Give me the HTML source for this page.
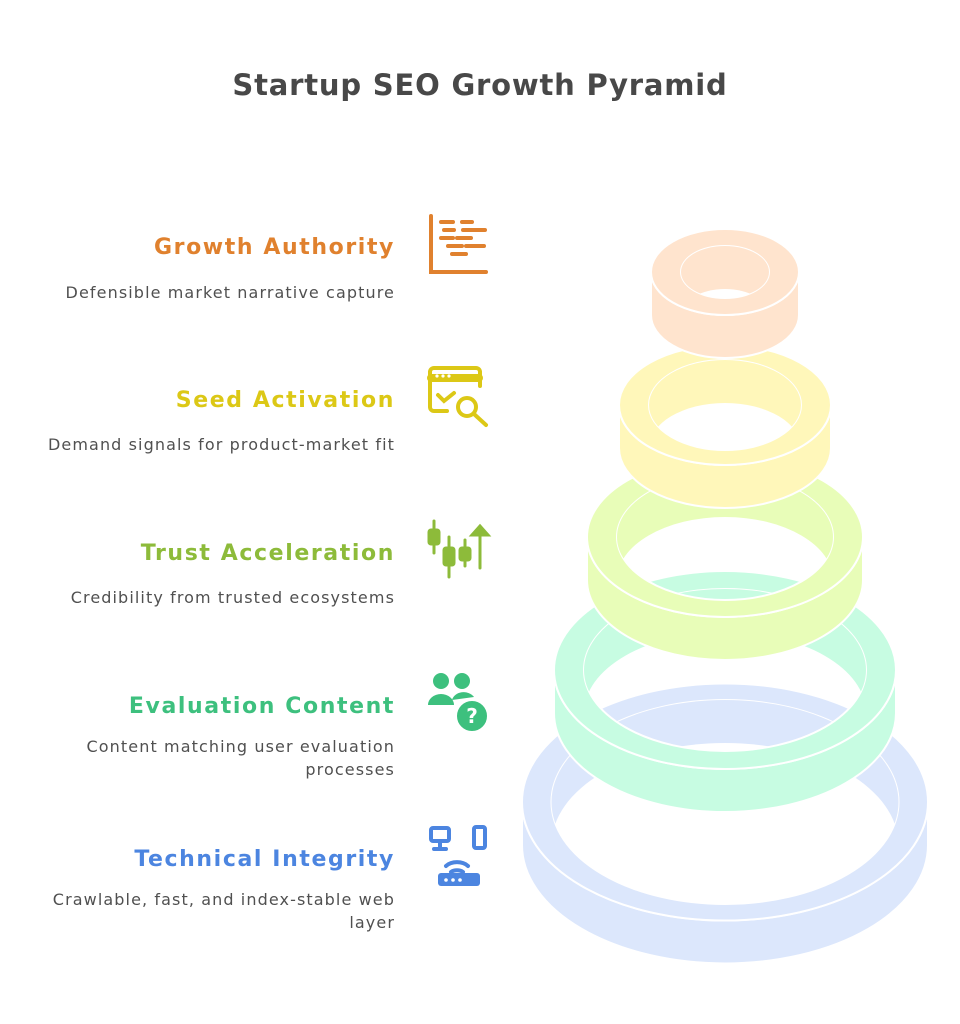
<!DOCTYPE html>
<html><head><meta charset="utf-8"><style>
body{margin:0;width:960px;height:1024px;background:#fff;position:relative;overflow:hidden;font-family:"DejaVu Sans","Liberation Sans",sans-serif}
.t{position:absolute;left:0;width:960px;text-align:center;top:68px;font-size:29px;font-weight:bold;color:#484848;letter-spacing:0.8px}
.h{position:absolute;right:565px;font-size:22px;font-weight:bold;white-space:nowrap;letter-spacing:1.6px}
.d{position:absolute;right:565px;font-size:16px;color:#505050;text-align:right;line-height:23px;white-space:nowrap;letter-spacing:1.1px}
svg{position:absolute;left:0;top:0}
</style></head><body>
<div class="t">Startup SEO Growth Pyramid</div>
<svg width="960" height="1024">
<defs>
<mask id="m5"><ellipse cx="725" cy="802" rx="173.5" ry="102" fill="#fff"/><ellipse cx="725" cy="845" rx="173.5" ry="102" fill="#000"/></mask>
<mask id="m4"><ellipse cx="725" cy="670" rx="141" ry="81" fill="#fff"/><ellipse cx="725" cy="713" rx="141" ry="81" fill="#000"/></mask>
<mask id="m3"><ellipse cx="725" cy="537" rx="108" ry="63" fill="#fff"/><ellipse cx="725" cy="580" rx="108" ry="63" fill="#000"/></mask>
<mask id="m2"><ellipse cx="725" cy="405" rx="76" ry="45" fill="#fff"/><ellipse cx="725" cy="448" rx="76" ry="45" fill="#000"/></mask>
<mask id="m1"><ellipse cx="725" cy="272" rx="44" ry="26" fill="#fff"/><ellipse cx="725" cy="315" rx="44" ry="26" fill="#000"/></mask>
</defs>
<g fill="#DCE7FC" stroke="#fff" stroke-width="2">
<path d="M522 802 L522 845 A203 118.5 0 0 0 928 845 L928 802 A203 118.5 0 0 1 522 802Z"/>
<path fill-rule="evenodd" d="M522 802 A203 118.5 0 1 0 928 802 A203 118.5 0 1 0 522 802Z M551.5 802 A173.5 102 0 1 0 898.5 802 A173.5 102 0 1 0 551.5 802Z"/>
<rect x="540" y="690" width="370" height="230" mask="url(#m5)" stroke="none"/>
</g>
<g fill="#C7FCE2" stroke="#fff" stroke-width="2">
<path d="M554 670 L554 713 A171 99 0 0 0 896 713 L896 670 A171 99 0 0 1 554 670Z"/>
<path fill-rule="evenodd" d="M554 670 A171 99 0 1 0 896 670 A171 99 0 1 0 554 670Z M584 670 A141 81 0 1 0 866 670 A141 81 0 1 0 584 670Z"/>
<rect x="580" y="580" width="290" height="180" mask="url(#m4)" stroke="none"/>
</g>
<g fill="#E8FDB8" stroke="#fff" stroke-width="2">
<path d="M587 537 L587 580 A138 80 0 0 0 863 580 L863 537 A138 80 0 0 1 587 537Z"/>
<path fill-rule="evenodd" d="M587 537 A138 80 0 1 0 863 537 A138 80 0 1 0 587 537Z M617 537 A108 63 0 1 0 833 537 A108 63 0 1 0 617 537Z"/>
<rect x="610" y="470" width="230" height="140" mask="url(#m3)" stroke="none"/>
</g>
<g fill="#FFF7BA" stroke="#fff" stroke-width="2">
<path d="M619 405 L619 448 A106 60 0 0 0 831 448 L831 405 A106 60 0 0 1 619 405Z"/>
<path fill-rule="evenodd" d="M619 405 A106 60 0 1 0 831 405 A106 60 0 1 0 619 405Z M649 405 A76 45 0 1 0 801 405 A76 45 0 1 0 649 405Z"/>
<rect x="645" y="355" width="160" height="100" mask="url(#m2)" stroke="none"/>
</g>
<g fill="#FFE4CE" stroke="#fff" stroke-width="2">
<path d="M651 272 L651 315 A74 43 0 0 0 799 315 L799 272 A74 43 0 0 1 651 272Z"/>
<path fill-rule="evenodd" d="M651 272 A74 43 0 1 0 799 272 A74 43 0 1 0 651 272Z M681 272 A44 26 0 1 0 769 272 A44 26 0 1 0 681 272Z"/>
<rect x="675" y="240" width="100" height="65" mask="url(#m1)" stroke="none"/>
</g>
<g stroke="#E0812E" stroke-width="4" stroke-linecap="round" fill="none">
<path d="M431 216 V272 H486"/>
<path d="M441 222h12M462 222h10M444 230h10M463 230h22M441 238h12M457 238h14M448 246h14M466 246h18M452 254h14"/>
</g>
<g stroke="#DCC816" stroke-width="4" fill="none" stroke-linecap="round">
<path d="M447 411 H434 a4 4 0 0 1-4-4 V372 a4 4 0 0 1 4-4 H476 a4 4 0 0 1 4 4 V386"/>
<path d="M431 378 H479" stroke-width="8"/>
<path d="M438 395 l6 6 l10-8"/>
<circle cx="467" cy="407" r="9"/><path d="M474 414 l12 11"/>
</g>
<g fill="#fff"><circle cx="437" cy="376" r="1.6"/><circle cx="443" cy="376" r="1.6"/><circle cx="449" cy="376" r="1.6"/></g>
<g fill="#8DBB3A" stroke="#8DBB3A" stroke-width="3" stroke-linecap="round">
<path d="M434 521v32M449 537v40M465 540v26M480 535v33" fill="none"/>
<rect x="429" y="530" width="10" height="14" rx="2"/><rect x="444" y="548" width="10" height="17" rx="2"/><rect x="460" y="548" width="10" height="12" rx="2"/>
<path d="M472 535 L480 526 L488 535Z"/>
</g>
<g fill="#3DC07E">
<circle cx="441" cy="681" r="8"/><circle cx="462" cy="681" r="8"/>
<path d="M428 705 a13 11 0 0 1 26 0Z"/><path d="M452 700 a12 10 0 0 1 22-3 Z"/>
<circle cx="472" cy="716" r="16" stroke="#fff" stroke-width="2"/>
</g>
<text x="472" y="723" font-size="20" font-weight="bold" fill="#fff" text-anchor="middle" font-family="DejaVu Sans">?</text>
<g stroke="#4C85E0" stroke-width="4" fill="none" stroke-linecap="round">
<rect x="431" y="828" width="18" height="13" rx="2"/><path d="M440 841v7M434 849h12"/>
<rect x="474" y="827" width="11" height="21" rx="2"/>
<path d="M446 866 a14 10 0 0 1 22 0M451 872 a8 5 0 0 1 12 0"/>
</g>
<rect x="438" y="873" width="42" height="13" rx="3" fill="#4C85E0"/>
<g fill="#fff"><circle cx="446" cy="880" r="1.8"/><circle cx="453" cy="880" r="1.8"/><circle cx="460" cy="880" r="1.8"/></g>
</svg>
<div class="h" style="top:235px;color:#E0812E">Growth Authority</div>
<div class="d" style="top:281px">Defensible market narrative capture</div>
<div class="h" style="top:388px;color:#DCC816">Seed Activation</div>
<div class="d" style="top:433px">Demand signals for product-market fit</div>
<div class="h" style="top:541px;color:#8DBB3A">Trust Acceleration</div>
<div class="d" style="top:586px">Credibility from trusted ecosystems</div>
<div class="h" style="top:694px;color:#3DC07E">Evaluation Content</div>
<div class="d" style="top:735px">Content matching user evaluation<br>processes</div>
<div class="h" style="top:847px;color:#4C85E0">Technical Integrity</div>
<div class="d" style="top:888px">Crawlable, fast, and index-stable web<br>layer</div>
</body></html>
